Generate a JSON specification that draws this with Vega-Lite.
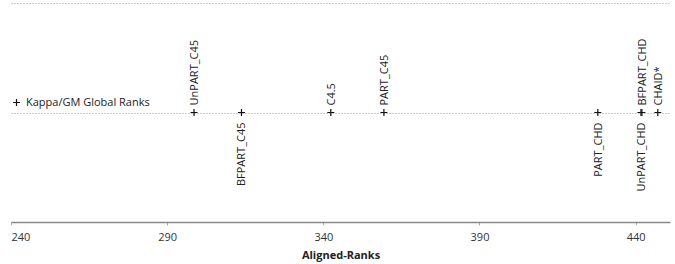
{
  "$schema": "https://vega.github.io/schema/vega-lite/v6.json",
  "width": 659,
  "height": 219,
  "autosize": {"type": "none"},
  "padding": {"left": 11, "top": 3, "right": 5, "bottom": 42},
  "background": "white",
  "config": {
    "view": {"stroke": null},
    "font": "Open Sans",
    "text": {"font": "Open Sans"}
  },
  "data": {
    "values": [
      {"model": "UnPART_C45", "rank": 298.6, "y": 1, "pos": "above", "series": "Kappa/GM Global Ranks"},
      {"model": "BFPART_C45", "rank": 313.8, "y": 1, "pos": "below", "series": "Kappa/GM Global Ranks"},
      {"model": "C4.5", "rank": 342.4, "y": 1, "pos": "above", "series": "Kappa/GM Global Ranks"},
      {"model": "PART_C45", "rank": 359.4, "y": 1, "pos": "above", "series": "Kappa/GM Global Ranks"},
      {"model": "PART_CHD", "rank": 427.9, "y": 1, "pos": "below", "series": "Kappa/GM Global Ranks"},
      {"model": "UnPART_CHD", "rank": 441.7, "y": 1, "pos": "below", "series": "Kappa/GM Global Ranks"},
      {"model": "BFPART_CHD", "rank": 442.0, "y": 1, "pos": "above", "series": "Kappa/GM Global Ranks"},
      {"model": "CHAID*", "rank": 447.1, "y": 1, "pos": "above", "series": "Kappa/GM Global Ranks"}
    ]
  },
  "encoding": {
    "x": {
      "field": "rank",
      "type": "quantitative",
      "scale": {"domain": [240, 451], "nice": false, "zero": false},
      "axis": {
        "values": [240, 290, 340, 390, 440],
        "title": "Aligned-Ranks",
        "titleFont": "Open Sans",
        "titleFontSize": 11,
        "titleFontWeight": "bold",
        "titleColor": "#222",
        "titlePadding": 7,
        "labelFont": "Open Sans",
        "labelFontSize": 11,
        "labelColor": "#333",
        "labelPadding": 6,
        "domainColor": "#888",
        "domainWidth": 1.5,
        "tickColor": "#aaa",
        "tickSize": 3,
        "grid": false
      }
    },
    "y": {
      "field": "y",
      "type": "quantitative",
      "scale": {"domain": [0, 2], "nice": false},
      "axis": {
        "values": [1, 2],
        "title": null,
        "labels": false,
        "ticks": false,
        "domain": false,
        "grid": true,
        "gridColor": "#999",
        "gridDash": [1, 2],
        "gridWidth": 1
      }
    }
  },
  "layer": [
    {
      "mark": {"type": "point", "shape": "M-1,0H1M0,-1V1", "size": 49, "filled": false, "strokeWidth": 1.2, "opacity": 1},
      "encoding": {
        "color": {
          "field": "series",
          "type": "nominal",
          "scale": {"range": ["#111"]},
          "legend": {
            "title": null,
            "orient": "none",
            "legendX": 0,
            "legendY": 94,
            "symbolType": "M-1,0H1M0,-1V1",
            "symbolSize": 49,
            "symbolStrokeWidth": 1.2,
            "symbolFillColor": "transparent",
            "symbolStrokeColor": "#111",
            "labelFont": "Open Sans",
            "labelFontSize": 11,
            "labelColor": "#222",
            "labelOffset": 4,
            "padding": 0
          }
        }
      }
    },
    {
      "transform": [{"filter": "datum.pos === 'above'"}],
      "mark": {"type": "text", "angle": 270, "align": "left", "baseline": "middle", "dx": 7, "dy": 1, "fontSize": 11, "color": "#222"},
      "encoding": {"text": {"field": "model"}}
    },
    {
      "transform": [{"filter": "datum.pos === 'below'"}],
      "mark": {"type": "text", "angle": 270, "align": "right", "baseline": "middle", "dx": -10, "dy": 1, "fontSize": 11, "color": "#222"},
      "encoding": {"text": {"field": "model"}}
    }
  ]
}
